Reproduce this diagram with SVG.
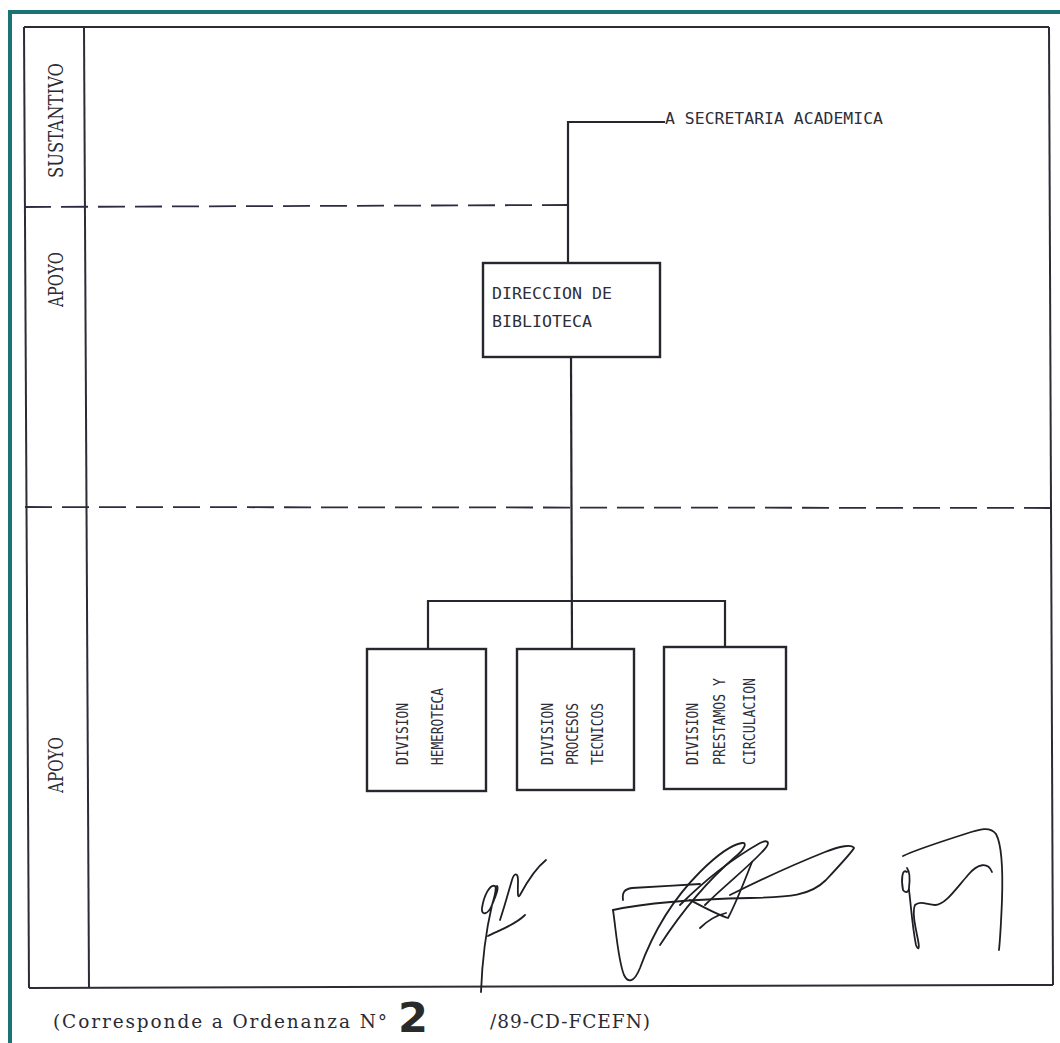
<svg xmlns="http://www.w3.org/2000/svg" width="1060" height="1043" viewBox="0 0 1060 1043">
<style>
.frame{stroke:#2c2c36;stroke-width:2;fill:none}
.dash{stroke:#2c2c40;stroke-width:1.8;fill:none;stroke-dasharray:27 10}
.box{fill:#ffffff;stroke:#26262e;stroke-width:2.4}
.conn{stroke:#26262e;stroke-width:2.2;fill:none}
.t{font-family:"DejaVu Sans Mono","Liberation Mono",monospace;fill:#2e2e38}
.h{font-size:15px}
.v{font-size:16px}
.serif{font-family:"DejaVu Serif","Liberation Serif",serif;fill:#2a2a32}
.sig{stroke:#1e1e24;stroke-width:1.8;fill:none;stroke-linecap:round;stroke-linejoin:round}
</style>
<rect x="0" y="0" width="1060" height="1043" fill="#ffffff"/>
<g id="scan-border" fill="#1b7373">
<rect x="8" y="10" width="1052" height="4"/>
<rect x="8" y="10" width="4" height="1033"/>
</g>
<g id="frame">
<line class="frame" x1="24" y1="27" x2="1049" y2="27"/>
<line class="frame" x1="24" y1="27" x2="29" y2="988"/>
<line class="frame" x1="84" y1="27" x2="89" y2="988"/>
<line class="frame" x1="1049" y1="27" x2="1053" y2="985"/>
<line class="frame" x1="29" y1="988" x2="1053" y2="985"/>
<line class="dash" x1="24" y1="207" x2="568" y2="205"/>
<line class="dash" x1="25" y1="507" x2="1050" y2="508"/>
</g>
<g id="level-labels">
<text class="serif" font-size="20" transform="translate(63,178) rotate(-90)" textLength="115" lengthAdjust="spacingAndGlyphs">SUSTANTIVO</text>
<text class="serif" font-size="20" transform="translate(63,307) rotate(-90)" textLength="55" lengthAdjust="spacingAndGlyphs">APOYO</text>
<text class="serif" font-size="20" transform="translate(63,793) rotate(-90)" textLength="56" lengthAdjust="spacingAndGlyphs">APOYO</text>
</g>
<g id="connectors">
<polyline class="conn" points="665,122 568,122 568,263"/>
<line class="conn" x1="571" y1="357" x2="572" y2="649"/>
<polyline class="conn" points="428,649 428,601 725,601 725,647"/>
</g>
<g id="secretaria-academica">
<text class="t h" x="665" y="124" textLength="218" lengthAdjust="spacingAndGlyphs">A SECRETARIA ACADEMICA</text>
</g>
<g id="direccion-biblioteca">
<rect class="box" x="483" y="263" width="177" height="94"/>
<text class="t h" x="492" y="299" textLength="120" lengthAdjust="spacingAndGlyphs">DIRECCION DE</text>
<text class="t h" x="492" y="327" textLength="100" lengthAdjust="spacingAndGlyphs">BIBLIOTECA</text>
</g>
<g id="division-hemeroteca">
<rect class="box" x="367" y="649" width="119" height="142"/>
<text class="t v" transform="translate(408,765) rotate(-90)" textLength="62" lengthAdjust="spacingAndGlyphs">DIVISION</text>
<text class="t v" transform="translate(443,765) rotate(-90)" textLength="77" lengthAdjust="spacingAndGlyphs">HEMEROTECA</text>
</g>
<g id="division-procesos-tecnicos">
<rect class="box" x="517" y="649" width="117" height="141"/>
<text class="t v" transform="translate(553,765) rotate(-90)" textLength="62" lengthAdjust="spacingAndGlyphs">DIVISION</text>
<text class="t v" transform="translate(578,765) rotate(-90)" textLength="62" lengthAdjust="spacingAndGlyphs">PROCESOS</text>
<text class="t v" transform="translate(603,765) rotate(-90)" textLength="62" lengthAdjust="spacingAndGlyphs">TECNICOS</text>
</g>
<g id="division-prestamos-circulacion">
<rect class="box" x="664" y="647" width="122" height="142"/>
<text class="t v" transform="translate(698,765) rotate(-90)" textLength="62" lengthAdjust="spacingAndGlyphs">DIVISION</text>
<text class="t v" transform="translate(725,765) rotate(-90)" textLength="87" lengthAdjust="spacingAndGlyphs">PRESTAMOS Y</text>
<text class="t v" transform="translate(755,765) rotate(-90)" textLength="87" lengthAdjust="spacingAndGlyphs">CIRCULACION</text>
</g>
<g id="signatures">
<path class="sig" d="M481,992 C482,965 485,935 492,905 C495,895 497,888 495,886 C490,884 484,895 482,908 C481,916 488,915 492,905 C496,895 499,888 497,886"/>
<path class="sig" d="M488,936 C500,930 515,925 525,915"/>
<path class="sig" d="M500,920 C505,905 509,890 512,880 C514,873 518,872 518,880 C518,890 517,900 520,895 C528,880 536,868 546,860"/>
<path class="sig" d="M623,900 C622,893 624,889 632,888 C650,887 680,885 700,884"/>
<path class="sig" d="M613,910 C616,930 618,960 624,975 C628,983 634,983 640,968 C652,935 672,900 700,872 C715,857 730,845 742,843 C748,842 744,850 735,857 C712,877 686,905 660,945"/>
<path class="sig" d="M680,905 C700,885 730,860 760,843 C768,839 772,842 762,852 C745,870 725,885 705,905"/>
<path class="sig" d="M613,910 C650,902 700,899 750,898 C790,897 810,896 826,880 C840,865 852,852 854,848 C852,844 840,846 825,852 C795,864 760,880 730,895"/>
<path class="sig" d="M690,900 C705,908 718,915 728,918 C735,905 745,880 752,862"/>
<path class="sig" d="M700,928 C708,920 718,915 726,913"/>
<path class="sig" d="M903,856 C915,850 940,842 965,834 C980,829 990,826 996,834 C1002,845 1003,870 1002,900 C1001,925 1000,940 999,950"/>
<path class="sig" d="M907,872 C902,868 901,880 903,890 C905,893 909,893 909,888 C910,880 910,872 907,868"/>
<path class="sig" d="M909,890 C911,905 912,925 916,945 C918,950 920,950 918,940 C915,925 912,912 915,905 C920,900 928,905 935,905 C945,905 955,890 968,875 C978,863 988,862 992,872"/>
</g>
<g id="footer">
<text class="serif" font-size="18.5" x="53" y="1028" textLength="334" lengthAdjust="spacing">(Corresponde a Ordenanza N°</text>
<text x="398" y="1032" font-family="DejaVu Sans, sans-serif" font-weight="bold" font-size="40" fill="#2a2a2a" textLength="30" lengthAdjust="spacingAndGlyphs">2</text>
<text class="serif" font-size="18.5" x="490" y="1028" textLength="160" lengthAdjust="spacing">/89-CD-FCEFN)</text>
</g>
</svg>
